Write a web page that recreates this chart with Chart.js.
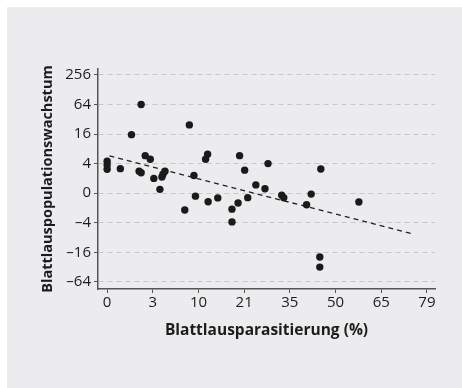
<!DOCTYPE html>
<html>
<head>
<meta charset="utf-8">
<script src="https://cdn.jsdelivr.net/npm/chart.js@4"></script>
<style>
  body { margin: 0; background: #fff; }
  canvas { display: block; }
</style>
</head>
<body>
<canvas id="chart" width="462" height="388"></canvas>
<script>
// x: arcsine-sqrt transformed parasitism (degrees), y: log4-type growth scale (tick units)
const xTickPos = [0, 9, 18, 27, 36, 45, 54, 63];
const xTickLabels = ['0', '3', '10', '21', '35', '50', '65', '79'];
const yTickPos = [-3, -2, -1, 0, 1, 2, 3, 4];
const yTickLabels = ['\u201364', '\u201316', '\u20134', '0', '4', '16', '64', '256'];

const parasitism = [0, 0, 0, 2.6, 4.8, 6.7, 6.3, 6.7, 7.5, 8.5,
    9.2, 10.4, 10.8, 11.0, 11.4, 15.3, 16.2, 17.1, 17.4, 19.4,
    19.8, 19.9, 21.8, 24.6, 24.6, 25.8, 26.1, 27.1, 27.7, 29.3,
    31.1, 31.7, 34.4, 34.8, 39.3, 40.2, 42.1, 41.9, 41.9, 49.6];
const growth = [1.08, 0.95, 0.81, 0.83, 1.98, 3.0, 0.74, 0.69, 1.27, 1.15,
    0.50, 0.13, 0.55, 0.64, 0.74, -0.57, 2.31, 0.60, -0.10, 1.15,
    1.32, -0.29, -0.16, -0.54, -0.97, -0.33, 1.27, 0.78, -0.15, 0.28,
    0.15, 1.00, -0.07, -0.15, -0.39, -0.03, 0.82, -2.16, -2.50, -0.30];

const fitX = [0.45, 60.5];
const fitY = [1.26, -1.39];

const textColor = '#1c1c1c';
const axisColor = '#555';

const panelBackground = {
    id: 'panelBackground',
    beforeDraw(chart) {
        const ctx = chart.ctx;
        ctx.save();
        ctx.fillStyle = '#fff';
        ctx.fillRect(0, 0, chart.width, chart.height);
        ctx.fillStyle = '#ececee';
        ctx.fillRect(7, 7, chart.width - 7, chart.height - 7);
        ctx.restore();
    }
};

const ctx = document.getElementById('chart').getContext('2d');
new Chart(ctx, {
    type: 'scatter',
    data: {
        datasets: [
            {
                data: parasitism.map((x, i) => ({ x: x, y: growth[i] })),
                backgroundColor: '#1a1a1a',
                borderColor: '#1a1a1a',
                pointRadius: 3.7,
                pointBorderWidth: 0,
            },
            {
                type: 'line',
                data: fitX.map((x, i) => ({ x: x, y: fitY[i] })),
                borderColor: '#222',
                borderWidth: 1.3,
                borderDash: [5, 4],
                pointRadius: 0,
                fill: false,
            }
        ]
    },
    options: {
        responsive: false,
        animation: false,
        layout: { padding: { left: 39, top: 69, right: 27, bottom: 48 } },
        plugins: {
            legend: { display: false },
            tooltip: { enabled: false },
        },
        scales: {
            x: {
                type: 'linear',
                min: -1.8,
                max: 64.6,
                afterBuildTicks: (scale) => { scale.ticks = xTickPos.map(v => ({ value: v })); },
                afterFit: (scale) => { scale.height = 51; },
                ticks: {
                    callback: (v) => xTickLabels[xTickPos.indexOf(v)],
                    color: textColor,
                    font: { family: 'Open Sans', size: 15 },
                    padding: 1,
                    maxRotation: 0,
                },
                grid: {
                    drawOnChartArea: false,
                    drawTicks: true,
                    tickLength: 4,
                    tickColor: axisColor,
                    tickWidth: 1,
                },
                border: { color: axisColor, width: 1.5 },
                title: {
                    display: true,
                    text: 'Blattlausparasitierung (%)',
                    color: textColor,
                    font: { family: 'Open Sans', size: 15.5, weight: 'bold' },
                    padding: 0,
                },
            },
            y: {
                type: 'linear',
                min: -3.24,
                max: 4.2,
                afterBuildTicks: (scale) => { scale.ticks = yTickPos.map(v => ({ value: v })); },
                afterFit: (scale) => { scale.width = 59; },
                ticks: {
                    callback: (v) => yTickLabels[yTickPos.indexOf(v)],
                    color: textColor,
                    font: { family: 'Open Sans', size: 15 },
                    padding: 3,
                },
                grid: {
                    color: '#c8c8c8',
                    lineWidth: 1,
                    drawTicks: true,
                    tickLength: 4,
                    tickColor: axisColor,
                    tickWidth: 1,
                    tickBorderDash: [],
                },
                border: { color: axisColor, width: 1.5, dash: [5, 4] },
                title: {
                    display: true,
                    text: 'Blattlauspopulationswachstum',
                    color: textColor,
                    font: { family: 'Open Sans', size: 14.5, weight: 'bold' },
                    padding: 0,
                },
            }
        }
    },
    plugins: [panelBackground]
});
</script>
</body>
</html>
